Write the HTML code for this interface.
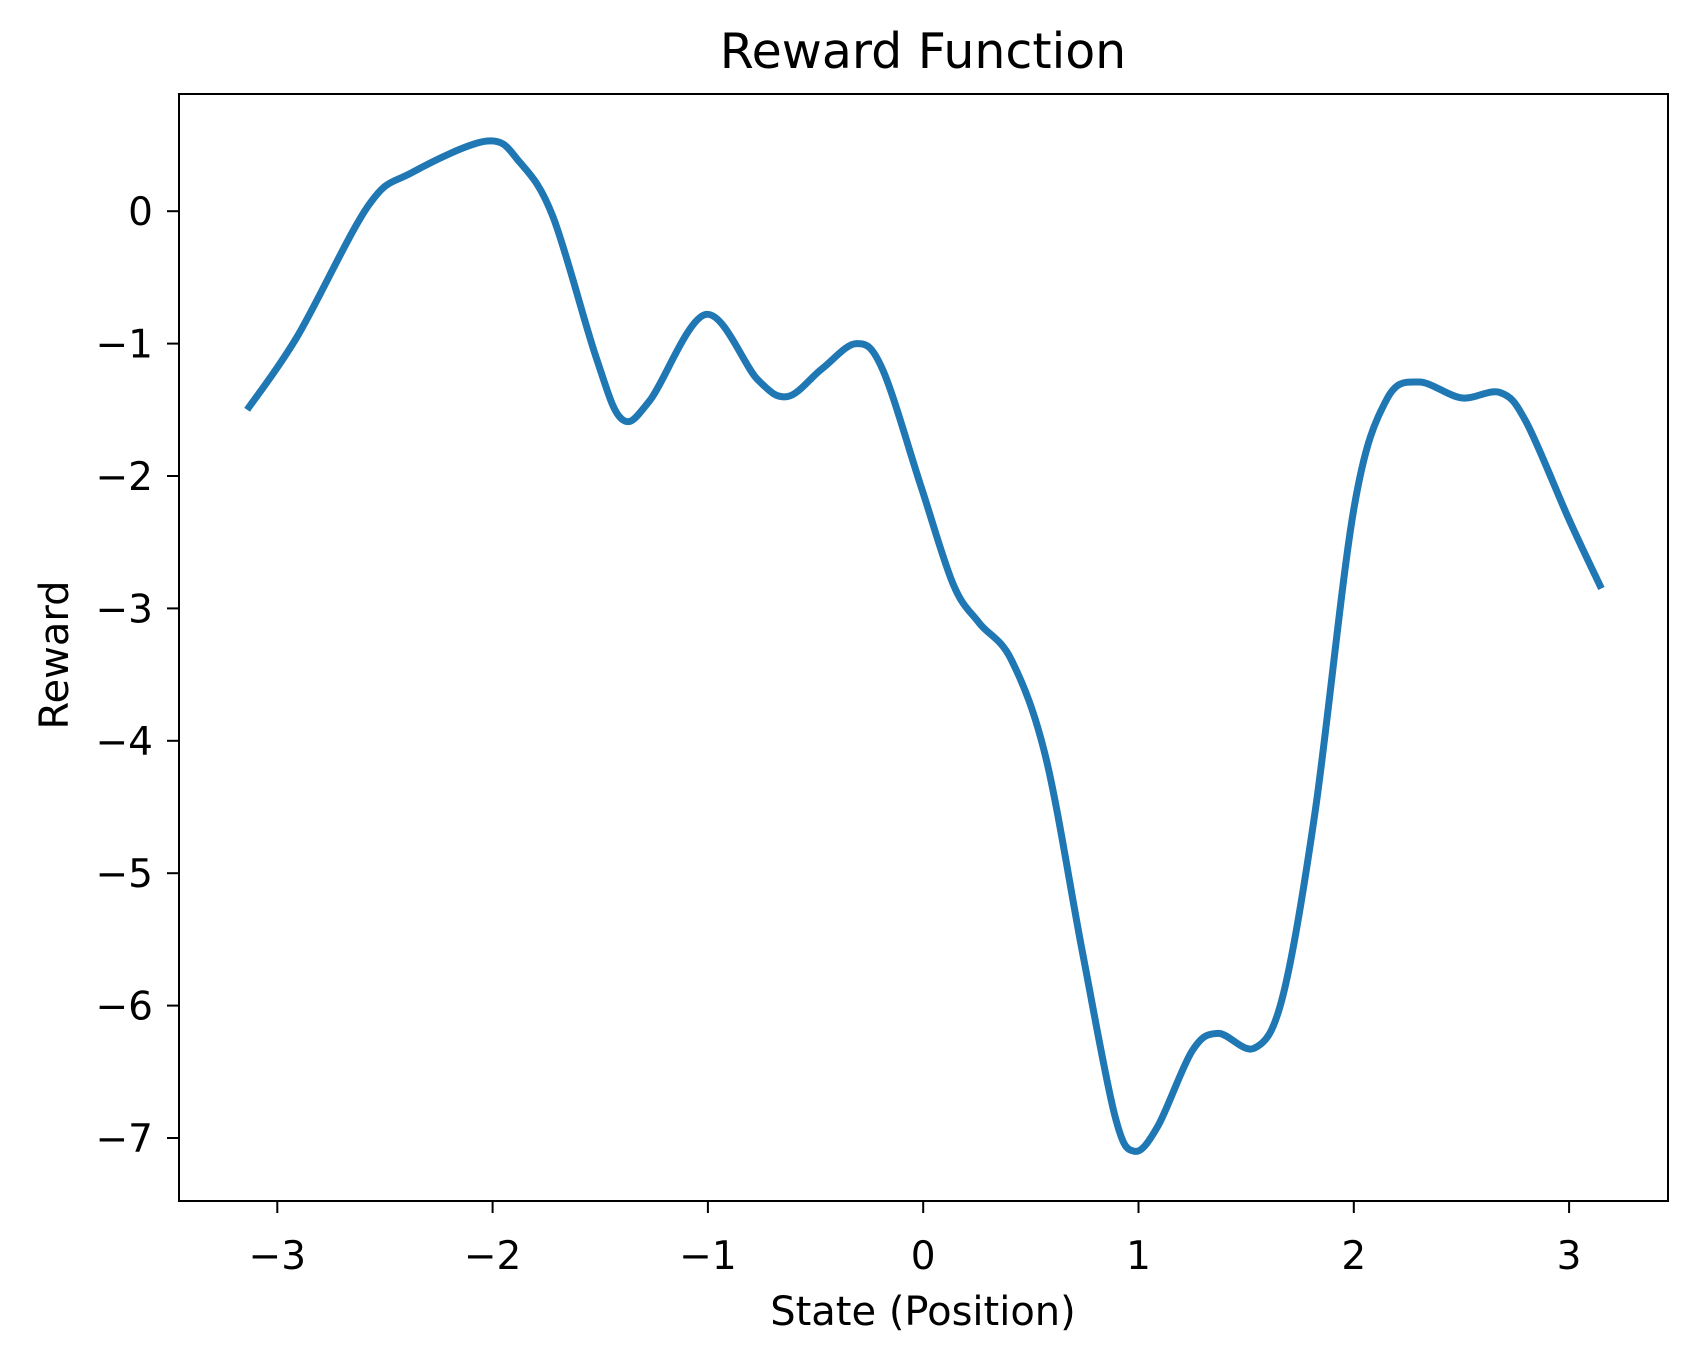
<!DOCTYPE html>
<html><head><meta charset="utf-8"><style>
body{margin:0;background:#fff}
svg{display:block;font-family:"DejaVu Sans","Liberation Sans",sans-serif}
</style></head><body>
<svg id="chart" width="1697" height="1361" viewBox="0 0 1697 1361">
<rect width="1697" height="1361" fill="#fff"/>
<text x="923" y="68" font-size="49" text-anchor="middle">Reward Function</text>
<g id="axes"></g>
<path id="curve" fill="none" stroke="#1f77b4" stroke-width="7" stroke-linejoin="round"/>
<rect x="179" y="94" width="1489" height="1107" fill="none" stroke="#000" stroke-width="2"/>
<text x="923" y="1325" font-size="40" text-anchor="middle">State (Position)</text>
<text transform="translate(68,655) rotate(-90)" font-size="40" text-anchor="middle">Reward</text>
</svg>
<script>
const xs=[-3.14,-2.905,-2.578,-2.377,-2.025,-1.874,-1.72,-1.52,-1.40,-1.27,-1.01,-0.77,-0.63,-0.47,-0.31,-0.19,-0.01,0.14,0.26,0.41,0.57,0.74,0.89,0.98,1.09,1.25,1.37,1.54,1.67,1.82,2.00,2.15,2.30,2.50,2.68,2.80,3.00,3.15];
const ys=[-1.50,-0.94,0.04,0.29,0.53,0.37,-0.04,-1.10,-1.57,-1.43,-0.78,-1.27,-1.40,-1.19,-1.00,-1.19,-2.08,-2.82,-3.11,-3.39,-4.13,-5.60,-6.83,-7.10,-6.91,-6.34,-6.21,-6.32,-5.93,-4.54,-2.25,-1.43,-1.29,-1.41,-1.37,-1.59,-2.33,-2.85];
const xTicks=[-3,-2,-1,0,1,2,3];
const yTicks=[0,-1,-2,-3,-4,-5,-6,-7];
const X=v=>923.2+215.3*v, Y=v=>211.2-132.4*v;
const NS="http://www.w3.org/2000/svg";
const ax=document.getElementById('axes');
function mk(t,a){const e=document.createElementNS(NS,t);for(const k in a)e.setAttribute(k,a[k]);ax.appendChild(e);return e;}
xTicks.forEach(v=>{
 const l=mk('line',{x1:X(v),x2:X(v),y1:1201,y2:1213,stroke:'#000','stroke-width':2});
 
 
 const t=mk('text',{x:X(v),y:1269,'font-size':39,'text-anchor':'middle'});
 t.textContent=v<0?'\u2212'+(-v):String(v);
 
 
});
yTicks.forEach(v=>{
 const l=mk('line',{x1:167,x2:179,y1:Y(v),y2:Y(v),stroke:'#000','stroke-width':2});
 
 
 const t=mk('text',{x:153,y:Y(v)+14,'font-size':39,'text-anchor':'end'});
 t.textContent=v<0?'\u2212'+(-v):String(v);
 
 
});
const P=xs.map((x,i)=>[X(x),Y(ys[i])]);
let d='M'+P[0][0]+','+P[0][1];
for(let i=0;i<P.length-1;i++){
 const p0=P[Math.max(i-1,0)],p1=P[i],p2=P[i+1],p3=P[Math.min(i+2,P.length-1)];
 const c1=[p1[0]+(p2[0]-p0[0])/6,p1[1]+(p2[1]-p0[1])/6];
 const c2=[p2[0]-(p3[0]-p1[0])/6,p2[1]-(p3[1]-p1[1])/6];
 d+=` C${c1[0]},${c1[1]} ${c2[0]},${c2[1]} ${p2[0]},${p2[1]}`;
}
document.getElementById('curve').setAttribute('d',d);
</script>
</body></html>
